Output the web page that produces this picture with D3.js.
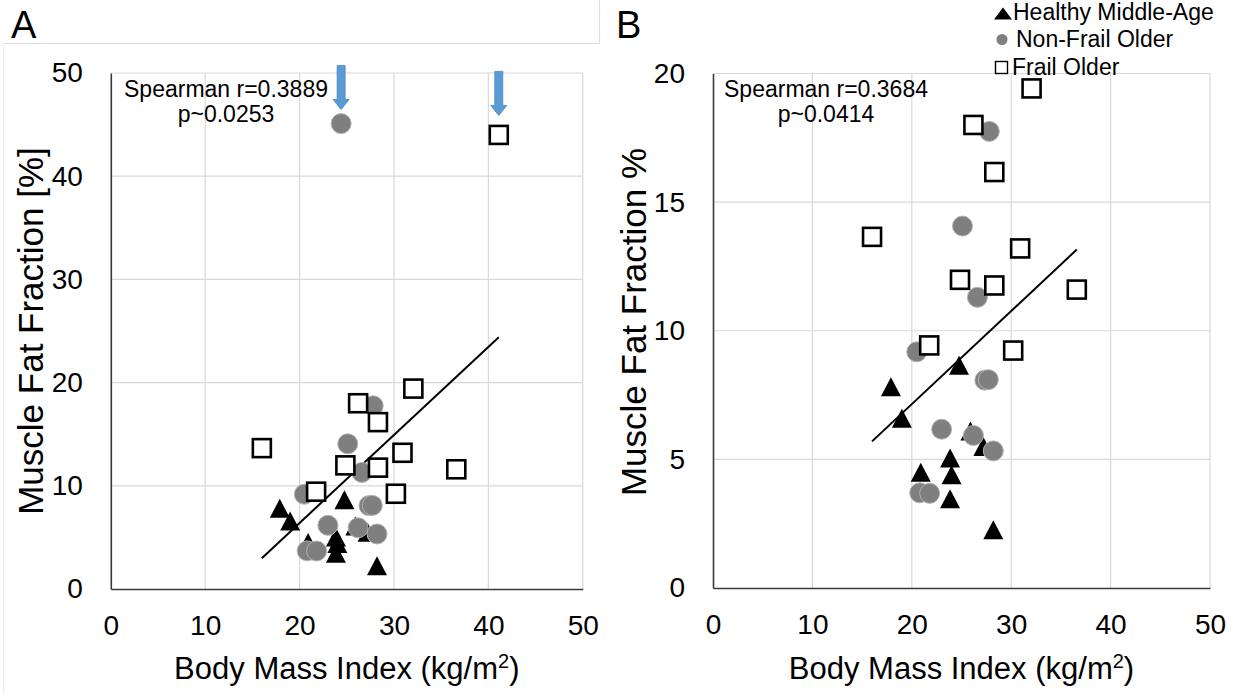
<!DOCTYPE html>
<html>
<head>
<meta charset="utf-8">
<script src="https://cdn.jsdelivr.net/npm/d3@7"></script>
<style>
  body { margin: 0; background: #fff; }
  svg { display: block; }
  text { font-family: "Liberation Sans", Arial, sans-serif; fill: #000; }
</style>
</head>
<body>
<svg id="fig" width="1239" height="694"></svg>
<script>
// Body mass index (kg/m²) and muscle fat fraction (%) for each participant group
const healthyBMI  = [17.9, 19.0, 20.9, 23.85, 23.85, 24.0, 24.75, 25.9, 27.2, 28.2];
const healthyFF   = [7.82, 6.6, 4.5, 5.05, 3.47, 4.4, 8.66, 6.1, 5.5, 2.26];

const nonFrailBMI = [20.5, 20.8, 21.8, 23.0, 25.1, 26.2, 26.6, 27.35, 27.7, 27.8, 28.2];
const nonFrailFF  = [9.18, 3.7, 3.68, 6.17, 14.07, 5.93, 11.3, 8.08, 8.1, 17.75, 5.33];

const frailBMI    = [16.0, 21.75, 24.85, 26.2, 28.3, 28.3, 30.2, 30.9, 32.05, 36.6];
const frailFF     = [13.65, 9.43, 11.98, 18.0, 16.17, 11.76, 9.23, 13.2, 19.42, 11.6];

// High fat-fraction cases shown (and flagged) only in panel A
const nonFrailOutlierBMI = [24.4];
const nonFrailOutlierFF  = [45.1];
const frailOutlierBMI    = [41.1];
const frailOutlierFF     = [44.0];

// Tick values
const xTicks  = [0, 10, 20, 30, 40, 50];
const yTicksA = [0, 10, 20, 30, 40, 50];
const yTicksB = [0, 5, 10, 15, 20];

// Linear trend lines: [intercept, slope]
const trendA = [-10.66, 0.853];
const trendB = [-0.093, 0.362];

// Correlation annotations
const statsA = ["Spearman r=0.3889", "p~0.0253"];
const statsB = ["Spearman r=0.3684", "p~0.0414"];

const legendLabels = ["Healthy Middle-Age", "Non-Frail Older", "Frail Older"];

const svg = d3.select("#fig");
const GRID = "#d9d9d9";
const AXIS = "#3a3a3a";

const zip = (xs, ys) => xs.map((x, i) => ({ x, y: ys[i] }));

function triPath(cx, cy, w, h) {
  return `M${cx},${cy - h / 2}L${cx + w / 2},${cy + h / 2}L${cx - w / 2},${cy + h / 2}Z`;
}

// Panel frame lines
svg.append("line").attr("x1", 3).attr("x2", 599.5).attr("y1", 43.5).attr("y2", 43.5)
  .attr("stroke", "#dcdcdc").attr("stroke-width", 1.2);
svg.append("line").attr("x1", 599.5).attr("x2", 599.5).attr("y1", 0).attr("y2", 43.5)
  .attr("stroke", "#dcdcdc").attr("stroke-width", 1.2);
svg.append("line").attr("x1", 3.5).attr("x2", 3.5).attr("y1", 43.5).attr("y2", 694)
  .attr("stroke", "#ececec").attr("stroke-width", 1);

function drawPanel(opt) {
  const g = svg.append("g");
  const x = d3.scaleLinear().domain([0, 50]).range(opt.xRange);
  const y = d3.scaleLinear().domain([0, opt.yMax]).range(opt.yRange);

  // Gridlines
  g.append("g").selectAll("line").data(xTicks.slice(1)).join("line")
    .attr("x1", d => x(d)).attr("x2", d => x(d))
    .attr("y1", y(0)).attr("y2", y(opt.yMax))
    .attr("stroke", GRID).attr("stroke-width", 1.2);
  g.append("g").selectAll("line").data(opt.yTicks.slice(1)).join("line")
    .attr("x1", x(0)).attr("x2", x(50))
    .attr("y1", d => y(d)).attr("y2", d => y(d))
    .attr("stroke", GRID).attr("stroke-width", 1.2);

  // Axes
  const xAxis = g.append("g").attr("transform", `translate(0,${y(0)})`)
    .call(d3.axisBottom(x).tickValues(xTicks).tickSize(0).tickPadding(26));
  const yAxis = g.append("g").attr("transform", `translate(${x(0)},0)`)
    .call(d3.axisLeft(y).tickValues(opt.yTicks).tickSize(0).tickPadding(28));
  [xAxis, yAxis].forEach(a => {
    a.select(".domain").attr("stroke", AXIS).attr("stroke-width", 1.6);
    a.selectAll("text").attr("font-size", 28).attr("font-family", "Liberation Sans, Arial, sans-serif").attr("fill", "#000");
  });

  // Trend line across the plotted BMI range
  const allX = opt.groups.flatMap(s => s.data.map(d => d.x));
  const [x0, x1] = d3.extent(allX);
  const f = v => opt.trend[0] + opt.trend[1] * v;
  g.append("line")
    .attr("x1", x(x0)).attr("y1", y(f(x0)))
    .attr("x2", x(x1)).attr("y2", y(f(x1)))
    .attr("stroke", "#000").attr("stroke-width", 2);

  // Markers: triangles, then circles, then squares on top
  const [tri, cir, sqr] = opt.groups;
  g.append("g").selectAll("path").data(tri.data).join("path")
    .attr("d", d => triPath(x(d.x), y(d.y), 20, 19))
    .attr("fill", "#000");
  g.append("g").selectAll("circle").data(cir.data).join("circle")
    .attr("cx", d => x(d.x)).attr("cy", d => y(d.y)).attr("r", 10)
    .attr("fill", "#7f7f7f").attr("stroke", "#b3b3b3").attr("stroke-width", 1);
  g.append("g").selectAll("rect").data(sqr.data).join("rect")
    .attr("x", d => x(d.x) - 9).attr("y", d => y(d.y) - 9)
    .attr("width", 18).attr("height", 18)
    .attr("fill", "#fff").attr("stroke", "#000").attr("stroke-width", 2.6);

  // Down arrows flagging selected points
  (opt.arrows || []).forEach(a => {
    const cx = x(a.x), tip = y(a.y) - a.gap, top = tip - 44;
    const sw = 4, hw = 8, hh = 10;
    g.append("path")
      .attr("d", `M${cx - sw},${top}L${cx + sw},${top}L${cx + sw},${tip - hh}L${cx + hw},${tip - hh}` +
                 `L${cx},${tip}L${cx - hw},${tip - hh}L${cx - sw},${tip - hh}Z`)
      .attr("fill", "#5b9bd5").attr("stroke", "#4a86c0").attr("stroke-width", 0.8);
  });

  // Correlation text
  const st = g.append("text").attr("text-anchor", "middle").attr("font-size", 23);
  opt.stats.forEach((s, i) => {
    st.append("tspan").attr("x", opt.statsX).attr("y", 97 + i * 25).text(s);
  });

  // Axis titles
  const xt = g.append("text").attr("text-anchor", "middle").attr("font-size", 31)
    .attr("x", (opt.xRange[0] + opt.xRange[1]) / 2).attr("y", 679);
  xt.append("tspan").text("Body Mass Index (kg/m");
  xt.append("tspan").attr("font-size", 20).attr("dy", -11).text("2");
  xt.append("tspan").attr("dy", 11).text(")");

  g.append("text").attr("text-anchor", "middle").attr("font-size", 35)
    .attr("transform", `translate(${opt.yTitleX},${opt.yTitleY}) rotate(-90)`)
    .text(opt.yTitle);

  // Panel letter
  g.append("text").attr("x", opt.letterX).attr("y", 38).attr("font-size", 38).text(opt.letter);
}

drawPanel({
  letter: "A", letterX: 11,
  xRange: [110.8, 582.8], yRange: [589, 73], yMax: 50, yTicks: yTicksA,
  trend: trendA, stats: statsA, statsX: 226,
  yTitle: "Muscle Fat Fraction [%]", yTitleX: 43, yTitleY: 331,
  groups: [
    { data: zip(healthyBMI, healthyFF) },
    { data: zip(nonFrailBMI.concat(nonFrailOutlierBMI), nonFrailFF.concat(nonFrailOutlierFF)) },
    { data: zip(frailBMI.concat(frailOutlierBMI), frailFF.concat(frailOutlierFF)) }
  ],
  arrows: [
    { x: nonFrailOutlierBMI[0], y: nonFrailOutlierFF[0], gap: 14 },
    { x: frailOutlierBMI[0], y: frailOutlierFF[0], gap: 19.5 }
  ]
});

drawPanel({
  letter: "B", letterX: 616,
  xRange: [713, 1210], yRange: [588, 73.5], yMax: 20, yTicks: yTicksB,
  trend: trendB, stats: statsB, statsX: 826,
  yTitle: "Muscle Fat Fraction %", yTitleX: 646, yTitleY: 322,
  groups: [
    { data: zip(healthyBMI, healthyFF) },
    { data: zip(nonFrailBMI, nonFrailFF) },
    { data: zip(frailBMI, frailFF) }
  ]
});

// Legend
const lg = svg.append("g");
lg.append("path").attr("d", triPath(1003, 13.5, 18, 12)).attr("fill", "#000");
lg.append("circle").attr("cx", 1002).attr("cy", 39.5).attr("r", 5.5).attr("fill", "#7f7f7f");
lg.append("rect").attr("x", 995.5).attr("y", 61.5).attr("width", 12).attr("height", 12)
  .attr("fill", "#fff").attr("stroke", "#000").attr("stroke-width", 1.4);
const legendX = [1013, 1016, 1012];
legendLabels.forEach((t, i) => {
  lg.append("text").attr("x", legendX[i]).attr("y", 20 + i * 27.3).attr("font-size", 23).text(t);
});
</script>
</body>
</html>
